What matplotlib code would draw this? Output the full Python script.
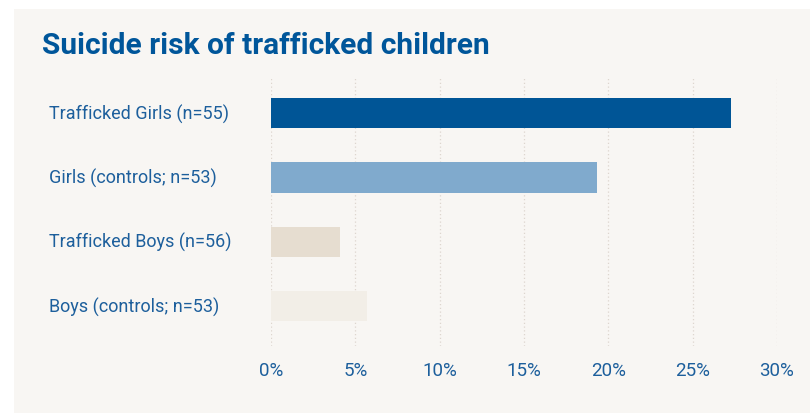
import matplotlib.pyplot as plt
import matplotlib.transforms as mtransforms

plt.rcParams['font.family'] = ['Roboto', 'DejaVu Sans']

groups = ['Trafficked Girls (n=55)', 'Girls (controls; n=53)',
          'Trafficked Boys (n=56)', 'Boys (controls; n=53)']
risk = [27.3, 19.3, 4.1, 5.7]
bar_colors = ['#005596', '#80aacd', '#e6ddd0', '#f2eee7']
ticks = [0, 5, 10, 15, 20, 25, 30]
tick_labels = ['0%', '5%', '10%', '15%', '20%', '25%', '30%']

W, H = 810, 414
blue = '#00569a'
text_blue = '#1d5f9c'

fig = plt.figure(figsize=(W / 100, H / 100), dpi=100)
fig.patch.set_facecolor('white')

# light panel behind everything
bg = fig.add_axes([14 / W, 0, 1 - 14 / W, 1 - 10 / H], zorder=0)
bg.set_facecolor('#f8f6f3')
bg.set_xticks([])
bg.set_yticks([])
for s in bg.spines.values():
    s.set_visible(False)

ax = fig.add_axes([271 / W, (H - 347) / H, (777 - 271) / W, 270 / H], zorder=1)
ax.set_facecolor('none')

ypos = list(range(len(groups)))
ax.barh(ypos, risk, height=0.47, color=bar_colors, zorder=3)

ax.set_xlim(0, 30)
ax.set_ylim(3.62, -0.58)
ax.set_xticks(ticks)
ax.set_xticklabels(tick_labels, fontsize=13.5, color=text_blue)
ax.set_yticks([])
ax.tick_params(axis='x', length=0, pad=11)
ax.grid(axis='x', color='#ddd6ce', linestyle=(0, (1, 2)), linewidth=0.9, zorder=1)
for s in ax.spines.values():
    s.set_visible(False)

# category labels sit left-aligned at a fixed figure x
trans = mtransforms.blended_transform_factory(fig.transFigure, ax.transData)
for y, g in zip(ypos, groups):
    fig.text(49 / W, y, g, transform=trans, ha='left', va='center',
             fontsize=13, color=text_blue, zorder=2)

fig.text(42 / W, 1 - 46 / H, 'Suicide risk of trafficked children',
         ha='left', va='center', fontsize=21.5, fontweight='bold', color=blue,
         zorder=2)

fig.savefig('out.png', dpi=100, facecolor=fig.get_facecolor())
